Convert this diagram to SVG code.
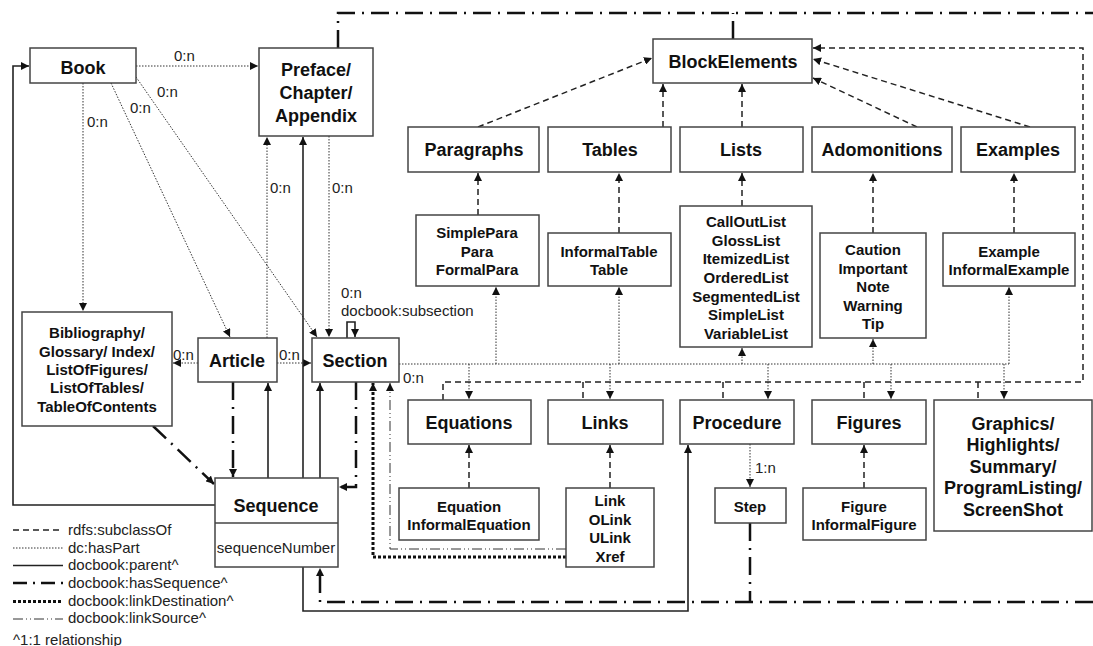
<svg xmlns="http://www.w3.org/2000/svg" width="1093" height="646" viewBox="0 0 1093 646">
<style>
.box{fill:#fff;stroke:#444;stroke-width:1.5}
.t{font-family:"Liberation Sans",Arial,sans-serif;font-weight:bold;fill:#111;text-anchor:middle}
.b18{font-size:18px}
.b15{font-size:15px}
.lbl{font-family:"Liberation Sans",Arial,sans-serif;font-size:15px;fill:#222}
.sub{stroke:#222;stroke-width:1.5;stroke-dasharray:6 4;fill:none}
.part{stroke:#333;stroke-width:1;stroke-dasharray:1.5 1.5;fill:none}
.par{stroke:#222;stroke-width:1.6;fill:none}
.seq{stroke:#111;stroke-width:2.5;stroke-dasharray:18 7 2 7;fill:none}
.dest{stroke:#111;stroke-width:3;stroke-dasharray:3 2;fill:none}
.src{stroke:#333;stroke-width:1;stroke-dasharray:10 3 1 3 1 3;fill:none}
</style>
<defs>
<marker id="a" viewBox="0 0 8 8" refX="8" refY="4" markerWidth="8" markerHeight="8" markerUnits="userSpaceOnUse" orient="auto">
<path d="M0,0 L8,4 L0,8 z" fill="#111"/>
</marker>
</defs>
<rect width="1093" height="646" fill="#fff"/>

<g id="connectors">
<!-- hasPart dotted -->
<path class="part" d="M136,66 H258" marker-end="url(#a)"/>
<path class="part" d="M83,83 V311" marker-end="url(#a)"/>
<path class="part" d="M111,83 L230,337" marker-end="url(#a)"/>
<path class="part" d="M136,77 L317,337" marker-end="url(#a)"/>
<path class="part" d="M267,338 V137" marker-end="url(#a)"/>
<path class="part" d="M329,136 V337" marker-end="url(#a)"/>
<path class="part" d="M198,363 H173" marker-end="url(#a)"/>
<path class="part" d="M277,363 H311" marker-end="url(#a)"/>
<path class="part" d="M399,364 H1009"/>
<path class="part" d="M496,364 V287" marker-end="url(#a)"/>
<path class="part" d="M619,364 V287" marker-end="url(#a)"/>
<path class="part" d="M742,364 V348" marker-end="url(#a)"/>
<path class="part" d="M873,364 V339" marker-end="url(#a)"/>
<path class="part" d="M1009,364 V287" marker-end="url(#a)"/>
<path class="part" d="M469,364 V399" marker-end="url(#a)"/>
<path class="part" d="M610,364 V399" marker-end="url(#a)"/>
<path class="part" d="M768,364 V399" marker-end="url(#a)"/>
<path class="part" d="M891,364 V399" marker-end="url(#a)"/>
<path class="part" d="M1004,364 V399" marker-end="url(#a)"/>
<path class="part" d="M750,444 V487" marker-end="url(#a)"/>

<!-- subclassOf dashed -->
<path class="sub" d="M478,127 L652,58" marker-end="url(#a)"/>
<path class="sub" d="M663,127 V84" marker-end="url(#a)"/>
<path class="sub" d="M742,127 V84" marker-end="url(#a)"/>
<path class="sub" d="M917,127 L813,78" marker-end="url(#a)"/>
<path class="sub" d="M1030,127 L813,59" marker-end="url(#a)"/>
<path class="sub" d="M478,215 V173" marker-end="url(#a)"/>
<path class="sub" d="M619,233 V173" marker-end="url(#a)"/>
<path class="sub" d="M742,206 V173" marker-end="url(#a)"/>
<path class="sub" d="M873,233 V173" marker-end="url(#a)"/>
<path class="sub" d="M1014,233 V173" marker-end="url(#a)"/>
<path class="sub" d="M469,488 V445" marker-end="url(#a)"/>
<path class="sub" d="M610,488 V445" marker-end="url(#a)"/>
<path class="sub" d="M864,488 V445" marker-end="url(#a)"/>
<path class="sub" d="M443,400 V382 H1083 V48 H813" marker-end="url(#a)"/>
<path class="sub" d="M583,382 V400 M723,382 V400 M864,382 V400 M978,382 V400"/>

<!-- parent solid -->
<path class="par" d="M215,505 H13 V66 H29" marker-end="url(#a)"/>
<path class="par" d="M268,478 V383" marker-end="url(#a)"/>
<path class="par" d="M303,478 V137" marker-end="url(#a)"/>
<path class="par" d="M320,478 V383" marker-end="url(#a)"/>
<path class="par" d="M303,567 V611 H688 V445" marker-end="url(#a)"/>

<!-- hasSequence dash-dot -->
<path class="seq" d="M338,48 V13 H1093"/>
<path class="seq" d="M733,39 V13"/>
<path class="seq" d="M233,382 V477" marker-end="url(#a)"/>
<path class="seq" d="M356,382 V487 H339" marker-end="url(#a)"/>
<path class="seq" d="M153,426 L214,484" marker-end="url(#a)"/>
<path class="seq" d="M1093,602 H320 V568" marker-end="url(#a)"/>
<path class="seq" d="M750,523 V602"/>

<!-- linkDestination / linkSource -->
<path class="dest" d="M566,557 H373 V383" marker-end="url(#a)"/>
<path class="src" d="M566,549 H390 V383" marker-end="url(#a)"/>
</g>

<g id="labels">
<text class="lbl" x="174" y="61">0:n</text>
<text class="lbl" x="87" y="127">0:n</text>
<text class="lbl" x="130" y="113">0:n</text>
<text class="lbl" x="157" y="97">0:n</text>
<text class="lbl" x="270" y="193">0:n</text>
<text class="lbl" x="332" y="193">0:n</text>
<text class="lbl" x="173" y="360">0:n</text>
<text class="lbl" x="279" y="360">0:n</text>
<text class="lbl" x="341" y="298">0:n</text>
<text class="lbl" x="341" y="316">docbook:subsection</text>
<text class="lbl" x="403" y="383">0:n</text>
<text class="lbl" x="755" y="473">1:n</text>
</g>
<path class="par" d="M347,338 V322 H355 V337" marker-end="url(#a)"/>

<g id="book"><rect class="box" x="30" y="48" width="106" height="35"/><text class="t b18" x="83" y="74">Book</text></g>
<g id="preface"><rect class="box" x="259" y="48" width="114" height="88"/>
<text class="t b18" x="316" y="76">Preface/</text><text class="t b18" x="316" y="99">Chapter/</text><text class="t b18" x="316" y="122">Appendix</text></g>
<g id="blockelements"><rect class="box" x="653" y="39" width="159" height="44"/><text class="t b18" x="733" y="68">BlockElements</text></g>

<g id="paragraphs"><rect class="box" x="408" y="127" width="131" height="45"/><text class="t b18" x="474" y="156">Paragraphs</text></g>
<g id="tables"><rect class="box" x="548" y="127" width="123" height="45"/><text class="t b18" x="610" y="156">Tables</text></g>
<g id="lists"><rect class="box" x="680" y="127" width="123" height="45"/><text class="t b18" x="741" y="156">Lists</text></g>
<g id="adomonitions"><rect class="box" x="812" y="127" width="140" height="45"/><text class="t b18" x="882" y="156">Adomonitions</text></g>
<g id="examples"><rect class="box" x="961" y="127" width="114" height="45"/><text class="t b18" x="1018" y="156">Examples</text></g>

<g id="simplepara"><rect class="box" x="416" y="215" width="123" height="71"/>
<text class="t b15" x="477" y="238">SimplePara</text><text class="t b15" x="477" y="257">Para</text><text class="t b15" x="477" y="275">FormalPara</text></g>
<g id="informaltable"><rect class="box" x="548" y="233" width="123" height="53"/>
<text class="t b15" x="609" y="257">InformalTable</text><text class="t b15" x="609" y="275">Table</text></g>
<g id="listtypes"><rect class="box" x="680" y="206" width="132" height="141"/>
<text class="t b15" x="746" y="227">CallOutList</text><text class="t b15" x="746" y="245.7">GlossList</text><text class="t b15" x="746" y="264.3">ItemizedList</text><text class="t b15" x="746" y="283">OrderedList</text><text class="t b15" x="746" y="301.7">SegmentedList</text><text class="t b15" x="746" y="320.3">SimpleList</text><text class="t b15" x="746" y="339">VariableList</text></g>
<g id="caution"><rect class="box" x="820" y="233" width="106" height="105"/>
<text class="t b15" x="873" y="255">Caution</text><text class="t b15" x="873" y="273.5">Important</text><text class="t b15" x="873" y="292">Note</text><text class="t b15" x="873" y="310.5">Warning</text><text class="t b15" x="873" y="329">Tip</text></g>
<g id="example"><rect class="box" x="943" y="233" width="132" height="53"/>
<text class="t b15" x="1009" y="257">Example</text><text class="t b15" x="1009" y="275">InformalExample</text></g>

<g id="bibliography"><rect class="box" x="22" y="312" width="150" height="114"/>
<text class="t b15" x="97" y="338">Bibliography/</text><text class="t b15" x="97" y="356.5">Glossary/ Index/</text><text class="t b15" x="97" y="375">ListOfFigures/</text><text class="t b15" x="97" y="393">ListOfTables/</text><text class="t b15" x="97" y="411.5">TableOfContents</text></g>
<g id="article"><rect class="box" x="198" y="338" width="79" height="44"/><text class="t b18" x="237" y="367">Article</text></g>
<g id="section"><rect class="box" x="312" y="338" width="87" height="44"/><text class="t b18" x="355" y="367">Section</text></g>

<g id="equations"><rect class="box" x="408" y="400" width="123" height="44"/><text class="t b18" x="469" y="429">Equations</text></g>
<g id="links"><rect class="box" x="548" y="400" width="115" height="44"/><text class="t b18" x="605" y="429">Links</text></g>
<g id="procedure"><rect class="box" x="680" y="400" width="114" height="44"/><text class="t b18" x="737" y="429">Procedure</text></g>
<g id="figures"><rect class="box" x="812" y="400" width="114" height="44"/><text class="t b18" x="869" y="429">Figures</text></g>
<g id="graphics"><rect class="box" x="934" y="400" width="158" height="131"/>
<text class="t b18" x="1013" y="429.5">Graphics/</text><text class="t b18" x="1013" y="451">Highlights/</text><text class="t b18" x="1013" y="472.5">Summary/</text><text class="t b18" x="1013" y="494">ProgramListing/</text><text class="t b18" x="1013" y="516">ScreenShot</text></g>

<g id="equation"><rect class="box" x="399" y="488" width="140" height="52"/>
<text class="t b15" x="469" y="512">Equation</text><text class="t b15" x="469" y="530">InformalEquation</text></g>
<g id="link"><rect class="box" x="566" y="488" width="88" height="79"/>
<text class="t b15" x="610" y="506">Link</text><text class="t b15" x="610" y="524.5">OLink</text><text class="t b15" x="610" y="543">ULink</text><text class="t b15" x="610" y="561.5">Xref</text></g>
<g id="step"><rect class="box" x="715" y="488" width="71" height="35"/><text class="t b15" x="750" y="512">Step</text></g>
<g id="figure"><rect class="box" x="803" y="488" width="123" height="52"/>
<text class="t b15" x="864" y="512">Figure</text><text class="t b15" x="864" y="530">InformalFigure</text></g>

<g id="sequence"><rect class="box" x="215" y="478" width="123" height="89"/>
<line x1="215" y1="523" x2="338" y2="523" stroke="#444" stroke-width="1.5"/>
<text class="t b18" x="276" y="512">Sequence</text>
<text class="lbl" x="276" y="553" text-anchor="middle">sequenceNumber</text></g>

<g id="legend">
<line class="sub" x1="13" y1="530" x2="63" y2="530"/>
<line class="part" x1="13" y1="548" x2="63" y2="548"/>
<line class="par" x1="13" y1="565.5" x2="63" y2="565.5"/>
<line class="seq" x1="13" y1="583" x2="63" y2="583" style="stroke-dasharray:14 6 2 6"/>
<line class="dest" x1="13" y1="601.5" x2="63" y2="601.5"/>
<line class="src" x1="13" y1="619" x2="63" y2="619"/>
<text class="lbl" x="68" y="535">rdfs:subclassOf</text>
<text class="lbl" x="68" y="553">dc:hasPart</text>
<text class="lbl" x="68" y="570">docbook:parent^</text>
<text class="lbl" x="68" y="588">docbook:hasSequence^</text>
<text class="lbl" x="68" y="605.5">docbook:linkDestination^</text>
<text class="lbl" x="68" y="623">docbook:linkSource^</text>
<text class="lbl" x="13" y="645">^1:1 relationship</text>
</g>
</svg>
